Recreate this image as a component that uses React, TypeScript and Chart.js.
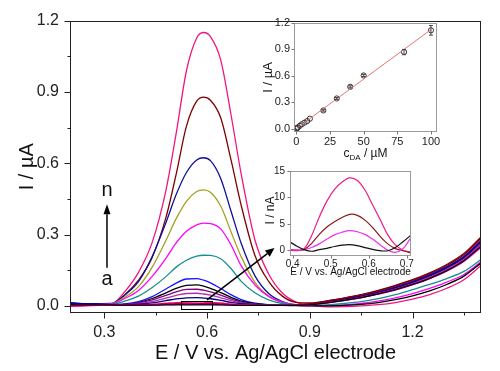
import { useEffect, useRef } from "react";
import { Chart, registerables } from "chart.js";

Chart.register(...registerables);

const FONT = "'Liberation Sans', Arial, Helvetica, sans-serif";
Chart.defaults.font.family = FONT;
Chart.defaults.color = "#222";

// ---------------- Main DPV curves (E / V, I / µA) ----------------
const potentials = [0.20, 0.26, 0.32, 0.36, 0.40, 0.44, 0.48, 0.51, 0.54, 0.57, 0.59, 0.61, 0.64, 0.67, 0.70, 0.74, 0.78, 0.82, 0.86, 0.90, 0.95, 1.00, 1.05, 1.10, 1.15, 1.20, 1.25, 1.30, 1.35, 1.40];

const curveA = [0.005, 0.004, 0.004, 0.003, 0.003, 0.003, 0.004, 0.004, 0.004, 0.004, 0.004, 0.004, 0.004, 0.003, 0.002, 0.002, 0.002, 0.002, 0.002, 0.004, 0.013, 0.023, 0.035, 0.05, 0.068, 0.09, 0.116, 0.148, 0.19, 0.25];
const curveB = [0.005, 0.004, 0.004, 0.003, 0.003, 0.004, 0.005, 0.006, 0.007, 0.007, 0.006, 0.006, 0.005, 0.004, 0.003, 0.002, 0.002, 0.002, 0.002, 0.004, 0.012, 0.022, 0.034, 0.049, 0.066, 0.088, 0.114, 0.146, 0.187, 0.246];
const curveC = [0.005, 0.004, 0.004, 0.003, 0.004, 0.005, 0.007, 0.009, 0.010, 0.010, 0.009, 0.009, 0.007, 0.005, 0.003, 0.002, 0.002, 0.002, 0.003, 0.008, 0.021, 0.033, 0.047, 0.065, 0.086, 0.11, 0.139, 0.174, 0.22, 0.29];
const curveD = [-0.002, 0.001, 0.003, 0.004, 0.005, 0.007, 0.011, 0.014, 0.016, 0.017, 0.016, 0.014, 0.012, 0.008, 0.005, 0.003, 0.002, 0.002, 0.002, 0.005, 0.014, 0.024, 0.037, 0.052, 0.07, 0.092, 0.118, 0.15, 0.192, 0.255];
const curveE = [0.012, 0.008, 0.005, 0.004, 0.007, 0.013, 0.022, 0.029, 0.034, 0.035, 0.033, 0.030, 0.023, 0.015, 0.009, 0.005, 0.003, 0.002, 0.002, 0.006, 0.017, 0.028, 0.041, 0.057, 0.077, 0.1, 0.128, 0.162, 0.205, 0.27];
const curveF = [0.005, 0.004, 0.005, 0.005, 0.010, 0.019, 0.033, 0.044, 0.052, 0.053, 0.050, 0.045, 0.034, 0.022, 0.013, 0.006, 0.003, 0.002, 0.002, 0.005, 0.015, 0.026, 0.038, 0.054, 0.072, 0.095, 0.121, 0.154, 0.196, 0.26];
const curveG = [0.005, 0.004, 0.005, 0.006, 0.012, 0.025, 0.044, 0.059, 0.069, 0.070, 0.066, 0.059, 0.045, 0.029, 0.016, 0.007, 0.004, 0.002, 0.003, 0.007, 0.018, 0.030, 0.044, 0.060, 0.080, 0.104, 0.131, 0.164, 0.208, 0.278];
const curveH = [0.005, 0.004, 0.005, 0.006, 0.014, 0.031, 0.055, 0.074, 0.086, 0.088, 0.083, 0.074, 0.056, 0.036, 0.020, 0.009, 0.004, 0.002, 0.001, 0.0, 0.0, 0.002, 0.006, 0.014, 0.026, 0.042, 0.063, 0.09, 0.125, 0.18];
const curveI = [0.012, 0.008, 0.006, 0.008, 0.018, 0.039, 0.071, 0.096, 0.113, 0.115, 0.108, 0.097, 0.073, 0.047, 0.026, 0.011, 0.005, 0.003, 0.002, 0.006, 0.017, 0.029, 0.042, 0.059, 0.079, 0.103, 0.131, 0.165, 0.208, 0.272];
const curveJ = [0.005, 0.004, 0.006, 0.020, 0.041, 0.077, 0.123, 0.163, 0.192, 0.209, 0.213, 0.212, 0.198, 0.157, 0.103, 0.055, 0.025, 0.010, 0.004, 0.002, 0.004, 0.01, 0.018, 0.03, 0.047, 0.068, 0.09, 0.115, 0.145, 0.195];
const curveK = [0.005, 0.005, 0.008, 0.031, 0.065, 0.124, 0.200, 0.265, 0.314, 0.341, 0.348, 0.346, 0.324, 0.257, 0.168, 0.088, 0.040, 0.016, 0.005, 0.0, 0.001, 0.004, 0.01, 0.02, 0.034, 0.052, 0.074, 0.1, 0.132, 0.185];
const curveL = [0.005, 0.005, 0.008, 0.037, 0.081, 0.163, 0.275, 0.367, 0.440, 0.481, 0.488, 0.478, 0.420, 0.312, 0.206, 0.099, 0.041, 0.014, 0.004, 0.004, 0.013, 0.023, 0.035, 0.05, 0.068, 0.09, 0.116, 0.148, 0.19, 0.25];
const curveM = [0.012, 0.009, 0.010, 0.046, 0.102, 0.208, 0.350, 0.468, 0.561, 0.614, 0.623, 0.611, 0.536, 0.399, 0.262, 0.126, 0.052, 0.018, 0.005, 0.006, 0.016, 0.027, 0.04, 0.056, 0.075, 0.098, 0.125, 0.158, 0.2, 0.265];
const curveN = [0.005, 0.005, 0.007, 0.047, 0.108, 0.204, 0.371, 0.554, 0.756, 0.861, 0.878, 0.865, 0.791, 0.615, 0.422, 0.212, 0.103, 0.041, 0.015, 0.012, 0.02, 0.032, 0.046, 0.063, 0.084, 0.108, 0.136, 0.17, 0.215, 0.285];
const curveO = [-0.002, 0.002, 0.006, 0.060, 0.141, 0.267, 0.485, 0.726, 0.989, 1.127, 1.150, 1.133, 1.035, 0.805, 0.553, 0.277, 0.134, 0.054, 0.016, 0.003, -0.004, -0.003, 0.0, 0.005, 0.014, 0.028, 0.047, 0.074, 0.11, 0.17];

const mainCurves = [curveA, curveB, curveC, curveD, curveE, curveF, curveG, curveH, curveI, curveJ, curveK, curveL, curveM, curveN, curveO];
const mainColors = ["#000000", "#FF00FF", "#800000", "#FF0080", "#000080", "#B030B0", "#800080", "#000000", "#1515FF", "#12918E", "#FF00FF", "#A3A21E", "#10109A", "#800000", "#F2157F"];

const xMajorTicks = [0.3, 0.6, 0.9, 1.2];
const xMinorTicks = [0.45, 0.75, 1.05, 1.35];
const yMajorTicks = [0.0, 0.3, 0.6, 0.9, 1.2];
const yMinorTicks = [0.15, 0.45, 0.75, 1.05];

// annotation anchors (data coordinates)
const zoomBox = { e1: 0.523, e2: 0.614, i1: -0.012, i2: 0.02 };
const zoomArrow = { e1: 0.6, i1: 0.025, e2: 0.797, i2: 0.243 };
const seriesArrow = { e: 0.308, i1: 0.16, i2: 0.427, nI: 0.485, aI: 0.112 };

// ---------------- Inset 1: calibration ----------------
const calConc = [0.1, 0.3, 0.6, 1, 2.5, 4, 6, 8, 10, 20, 30, 40, 50, 80, 100];
const calCurrent = [0.001, 0.004, 0.007, 0.014, 0.032, 0.05, 0.068, 0.086, 0.113, 0.207, 0.343, 0.475, 0.604, 0.87, 1.117];
const calError = [0, 0, 0, 0, 0, 0, 0, 0, 0, 0.008, 0.01, 0.012, 0.012, 0.03, 0.055];
const fitConc = [0, 100];
const fitCurrent = [0.002, 1.125];
const calXTicks = [0, 25, 50, 75, 100];
const calYTicks = [0.0, 0.3, 0.6, 0.9, 1.2];

// ---------------- Inset 2: low-concentration zoom (nA) ----------------
const zoomPotentials = [0.39, 0.41, 0.43, 0.45, 0.47, 0.49, 0.51, 0.53, 0.55, 0.57, 0.59, 0.61, 0.63, 0.65, 0.67, 0.69, 0.71];
const zoomBlack = [1.7, 0.8, 0.1, -0.2, 0.1, 0.35, 0.7, 0.95, 1.05, 0.85, 0.5, 0.15, -0.1, -0.1, 0.5, 1.6, 2.8];
const zoomMagenta = [0.1, 0.0, 0.1, 0.5, 1.2, 2.1, 2.9, 3.4, 3.7, 3.5, 3.0, 2.1, 1.0, 0.0, -0.4, 0.3, 2.3];
const zoomBrown = [0.2, 0.0, 0.1, 1.3, 3.0, 4.4, 5.4, 6.2, 6.8, 6.6, 5.7, 4.3, 2.6, 1.2, 0.3, -0.1, -0.5];
const zoomPink = [0.0, -0.1, 0.3, 2.8, 6.3, 9.3, 11.5, 12.9, 13.7, 13.2, 11.4, 8.6, 5.8, 2.9, 1.0, 0.0, -0.4];
const zoomCurves = [zoomBlack, zoomMagenta, zoomBrown, zoomPink];
const zoomColors = ["#111111", "#F030F0", "#8B1A1A", "#EE1A88"];
const zoomXTicks = [0.4, 0.5, 0.6, 0.7];
const zoomYTicks = [0, 5, 10, 15];

// ---------------- helpers ----------------
function drawFrameAndTicks(chart: any, opt: any) {
  const { ctx, chartArea: ca, scales } = chart;
  const x = scales.x, y = scales.y;
  ctx.save();
  ctx.strokeStyle = opt.frameColor;
  ctx.lineWidth = 1;
  ctx.strokeRect(Math.round(ca.left) + 0.5, Math.round(ca.top) + 0.5, Math.round(ca.right - ca.left) - 1, Math.round(ca.bottom - ca.top) - 1);
  ctx.strokeStyle = opt.tickColor;
  ctx.beginPath();
  const b = Math.round(ca.bottom) - 0.5;
  const l = Math.round(ca.left) + 0.5;
  const tx = (vals: number[], len: number) => {
    for (const v of vals) {
      const px = Math.round(x.getPixelForValue(v)) + 0.5;
      ctx.moveTo(px, b);
      ctx.lineTo(px, b + len);
    }
  };
  const ty = (vals: number[], len: number) => {
    for (const v of vals) {
      const py = Math.round(y.getPixelForValue(v)) + 0.5;
      ctx.moveTo(l, py);
      ctx.lineTo(l - len, py);
    }
  };
  tx(opt.xMajor, opt.majorLen);
  tx(opt.xMinor || [], opt.minorLen);
  ty(opt.yMajor, opt.majorLen);
  ty(opt.yMinor || [], opt.minorLen);
  ctx.stroke();
  ctx.restore();
}

function drawArrow(ctx: CanvasRenderingContext2D, x1: number, y1: number, x2: number, y2: number, headLen: number, headW: number, lw: number) {
  const ang = Math.atan2(y2 - y1, x2 - x1);
  const bx = x2 - headLen * Math.cos(ang);
  const by = y2 - headLen * Math.sin(ang);
  ctx.save();
  ctx.strokeStyle = "#000";
  ctx.fillStyle = "#000";
  ctx.lineWidth = lw;
  ctx.beginPath();
  ctx.moveTo(x1, y1);
  ctx.lineTo(bx, by);
  ctx.stroke();
  ctx.beginPath();
  ctx.moveTo(x2, y2);
  ctx.lineTo(bx + headW * Math.sin(ang), by - headW * Math.cos(ang));
  ctx.lineTo(bx - headW * Math.sin(ang), by + headW * Math.cos(ang));
  ctx.closePath();
  ctx.fill();
  ctx.restore();
}

function drawRotated(ctx: CanvasRenderingContext2D, text: string, x: number, y: number, font: string) {
  ctx.save();
  ctx.translate(x, y);
  ctx.rotate(-Math.PI / 2);
  ctx.font = font;
  ctx.fillStyle = "#111";
  ctx.textAlign = "center";
  ctx.textBaseline = "alphabetic";
  ctx.fillText(text, 0, 0);
  ctx.restore();
}

const fixedTicks = (vals: number[]) => (scale: any) => {
  scale.ticks = vals.map((v) => ({ value: v }));
};

const noGrid = { display: false, drawTicks: false, tickLength: 0 };

// ---------------- Main chart ----------------
function MainChart() {
  const ref = useRef<HTMLCanvasElement>(null);
  useEffect(() => {
    const canvas = ref.current!;
    const datasets = mainCurves.map((vals, k) => ({
      label: "curve " + String.fromCharCode(97 + k),
      data: potentials.map((e, i) => ({ x: e, y: vals[i] })),
      borderColor: mainColors[k],
      borderWidth: 1.3,
      pointRadius: 0,
      fill: false,
      cubicInterpolationMode: "monotone" as const,
    }));
    const decor = {
      id: "mainDecor",
      afterDraw(chart: any) {
        const { ctx, chartArea: ca, scales } = chart;
        const x = scales.x, y = scales.y;
        drawFrameAndTicks(chart, {
          frameColor: "#222", tickColor: "#222", majorLen: 6, minorLen: 3,
          xMajor: xMajorTicks, xMinor: xMinorTicks, yMajor: yMajorTicks, yMinor: yMinorTicks,
        });
        ctx.save();
        ctx.strokeStyle = "#000";
        ctx.lineWidth = 1;
        const rx1 = Math.round(x.getPixelForValue(zoomBox.e1)) + 0.5;
        const rx2 = Math.round(x.getPixelForValue(zoomBox.e2)) + 0.5;
        const ry1 = Math.round(y.getPixelForValue(zoomBox.i2)) + 0.5;
        const ry2 = Math.round(y.getPixelForValue(zoomBox.i1)) + 0.5;
        ctx.strokeRect(rx1, ry1, rx2 - rx1, ry2 - ry1);
        ctx.restore();
        drawArrow(ctx, x.getPixelForValue(zoomArrow.e1), y.getPixelForValue(zoomArrow.i1), x.getPixelForValue(zoomArrow.e2), y.getPixelForValue(zoomArrow.i2), 9, 4, 1.5);
        const ax = x.getPixelForValue(seriesArrow.e);
        drawArrow(ctx, ax, y.getPixelForValue(seriesArrow.i1), ax, y.getPixelForValue(seriesArrow.i2), 10, 3.5, 1.5);
        ctx.save();
        ctx.font = `20px ${FONT}`;
        ctx.fillStyle = "#111";
        ctx.textAlign = "center";
        ctx.textBaseline = "middle";
        ctx.fillText("n", ax, y.getPixelForValue(seriesArrow.nI));
        ctx.fillText("a", ax, y.getPixelForValue(seriesArrow.aI));
        ctx.textBaseline = "alphabetic";
        ctx.fillText("E / V vs. Ag/AgCl electrode", (ca.left + ca.right) / 2, 359);
        ctx.restore();
        drawRotated(ctx, "I / \u00B5A", 33, (ca.top + ca.bottom) / 2, `20px ${FONT}`);
      },
    };
    const chart = new Chart(canvas, {
      type: "line",
      data: { datasets },
      options: {
        responsive: false,
        animation: false,
        devicePixelRatio: 1,
        layout: { padding: { left: 0, top: 14, right: 19, bottom: 0 } },
        plugins: { legend: { display: false }, tooltip: { enabled: false } },
        scales: {
          x: {
            type: "linear", min: 0.2, max: 1.4,
            afterBuildTicks: fixedTicks(xMajorTicks),
            afterFit: (s: any) => { s.height = 58; },
            grid: noGrid, border: { display: false },
            ticks: { padding: 10, autoSkip: false, maxRotation: 0, color: "#222", font: { size: 16, family: FONT }, callback: (v: any) => Number(v).toFixed(1) },
          },
          y: {
            type: "linear", min: -0.03, max: 1.2,
            afterBuildTicks: fixedTicks(yMajorTicks),
            afterFit: (s: any) => { s.width = 70; },
            grid: noGrid, border: { display: false },
            ticks: { padding: 11, autoSkip: false, color: "#222", font: { size: 16, family: FONT }, callback: (v: any) => Number(v).toFixed(1) },
          },
        },
      } as any,
      plugins: [decor],
    });
    return () => chart.destroy();
  }, []);
  return <canvas ref={ref} width={500} height={371} style={{ position: "absolute", left: 0, top: 0 }} />;
}

// ---------------- Inset 1 ----------------
function CalibrationInset() {
  const ref = useRef<HTMLCanvasElement>(null);
  useEffect(() => {
    const canvas = ref.current!;
    const decor = {
      id: "calDecor",
      afterDatasetsDraw(chart: any) {
        const { ctx, scales } = chart;
        const x = scales.x, y = scales.y;
        ctx.save();
        ctx.strokeStyle = "#444";
        ctx.lineWidth = 1;
        ctx.beginPath();
        calConc.forEach((c, i) => {
          const e = calError[i];
          if (!e) return;
          const px = x.getPixelForValue(c);
          const top = y.getPixelForValue(calCurrent[i] + e);
          const bot = y.getPixelForValue(calCurrent[i] - e);
          ctx.moveTo(px, top); ctx.lineTo(px, bot);
          ctx.moveTo(px - 2, top); ctx.lineTo(px + 2, top);
          ctx.moveTo(px - 2, bot); ctx.lineTo(px + 2, bot);
        });
        ctx.stroke();
        ctx.restore();
      },
      afterDraw(chart: any) {
        const { ctx, chartArea: ca } = chart;
        drawFrameAndTicks(chart, {
          frameColor: "#9A9A9A", tickColor: "#777", majorLen: 3, minorLen: 2,
          xMajor: calXTicks, yMajor: calYTicks,
        });
        ctx.save();
        ctx.fillStyle = "#111";
        ctx.textBaseline = "alphabetic";
        const cx = (ca.left + ca.right) / 2;
        const parts = [
          { t: "c", f: `12px ${FONT}`, dy: 0 },
          { t: "DA", f: `8px ${FONT}`, dy: 3 },
          { t: " / \u00B5M", f: `12px ${FONT}`, dy: 0 },
        ];
        let w = 0;
        for (const p of parts) { ctx.font = p.f; w += ctx.measureText(p.t).width; }
        let xx = cx - w / 2;
        ctx.textAlign = "left";
        for (const p of parts) {
          ctx.font = p.f;
          ctx.fillText(p.t, xx, 147 + p.dy);
          xx += ctx.measureText(p.t).width;
        }
        ctx.restore();
        drawRotated(ctx, "I / \u00B5A", 22, (ca.top + ca.bottom) / 2, `13px ${FONT}`);
      },
    };
    const chart = new Chart(canvas, {
      type: "scatter",
      data: {
        datasets: [
          {
            label: "fit",
            data: fitConc.map((c, i) => ({ x: c, y: fitCurrent[i] })),
            showLine: true, borderColor: "#E07575", borderWidth: 1, pointRadius: 0,
          },
          {
            label: "peak current",
            data: calConc.map((c, i) => ({ x: c, y: calCurrent[i] })),
            showLine: false, pointRadius: 2.6, pointBorderWidth: 1,
            borderColor: "#333", backgroundColor: "rgba(255,255,255,0)",
            pointBorderColor: "#333", pointBackgroundColor: "rgba(255,255,255,0)",
          },
        ],
      },
      options: {
        responsive: false,
        animation: false,
        devicePixelRatio: 1,
        layout: { padding: { left: 0, top: 13, right: 8, bottom: 0 } },
        plugins: { legend: { display: false }, tooltip: { enabled: false } },
        scales: {
          x: {
            type: "linear", min: -1.8, max: 104.5,
            afterBuildTicks: fixedTicks(calXTicks),
            afterFit: (s: any) => { s.height = 33; },
            grid: noGrid, border: { display: false },
            ticks: { padding: 3, autoSkip: false, maxRotation: 0, color: "#222", font: { size: 11, family: FONT }, callback: (v: any) => String(v) },
          },
          y: {
            type: "linear", min: -0.038, max: 1.2,
            afterBuildTicks: fixedTicks(calYTicks),
            afterFit: (s: any) => { s.width = 44; },
            grid: noGrid, border: { display: false },
            ticks: { padding: 4, autoSkip: false, color: "#222", font: { size: 11, family: FONT }, callback: (v: any) => Number(v).toFixed(1) },
          },
        },
      } as any,
      plugins: [decor],
    });
    return () => chart.destroy();
  }, []);
  return <canvas ref={ref} width={195} height={155} style={{ position: "absolute", left: 250, top: 10 }} />;
}

// ---------------- Inset 2 ----------------
function ZoomInset() {
  const ref = useRef<HTMLCanvasElement>(null);
  useEffect(() => {
    const canvas = ref.current!;
    const datasets = zoomCurves.map((vals, k) => ({
      label: "zoom " + k,
      data: zoomPotentials.map((e, i) => ({ x: e, y: vals[i] })),
      borderColor: zoomColors[k],
      borderWidth: 1.2,
      pointRadius: 0,
      fill: false,
      tension: 0.35,
    }));
    const decor = {
      id: "zoomDecor",
      afterDraw(chart: any) {
        const { ctx, chartArea: ca } = chart;
        drawFrameAndTicks(chart, {
          frameColor: "#9A9A9A", tickColor: "#777", majorLen: 3, minorLen: 2,
          xMajor: zoomXTicks, yMajor: zoomYTicks,
        });
        ctx.save();
        ctx.fillStyle = "#111";
        ctx.font = `10px ${FONT}`;
        ctx.textAlign = "center";
        ctx.textBaseline = "alphabetic";
        ctx.fillText("E / V vs. Ag/AgCl electrode", (ca.left + ca.right) / 2, 115);
        ctx.restore();
        drawRotated(ctx, "I / nA", 19, (ca.top + ca.bottom) / 2 - 3, `12px ${FONT}`);
      },
    };
    const chart = new Chart(canvas, {
      type: "line",
      data: { datasets },
      options: {
        responsive: false,
        animation: false,
        devicePixelRatio: 1,
        layout: { padding: { left: 0, top: 10, right: 9, bottom: 0 } },
        plugins: { legend: { display: false }, tooltip: { enabled: false } },
        scales: {
          x: {
            type: "linear", min: 0.393, max: 0.711,
            afterBuildTicks: fixedTicks(zoomXTicks),
            afterFit: (s: any) => { s.height = 29; },
            grid: noGrid, border: { display: false },
            ticks: { padding: 2, autoSkip: false, maxRotation: 0, color: "#222", font: { size: 10, family: FONT }, callback: (v: any) => Number(v).toFixed(1) },
          },
          y: {
            type: "linear", min: -1.1, max: 15,
            afterBuildTicks: fixedTicks(zoomYTicks),
            afterFit: (s: any) => { s.width = 35; },
            grid: noGrid, border: { display: false },
            ticks: { padding: 5, autoSkip: false, color: "#222", font: { size: 10, family: FONT }, callback: (v: any) => String(v) },
          },
        },
      } as any,
      plugins: [decor],
    });
    return () => chart.destroy();
  }, []);
  return <canvas ref={ref} width={165} height={125} style={{ position: "absolute", left: 255, top: 160 }} />;
}

export default function App() {
  return (
    <div style={{ position: "absolute", left: 0, top: 0, width: 500, height: 371, background: "#fff", overflow: "hidden" }}>
      <MainChart />
      <CalibrationInset />
      <ZoomInset />
    </div>
  );
}
